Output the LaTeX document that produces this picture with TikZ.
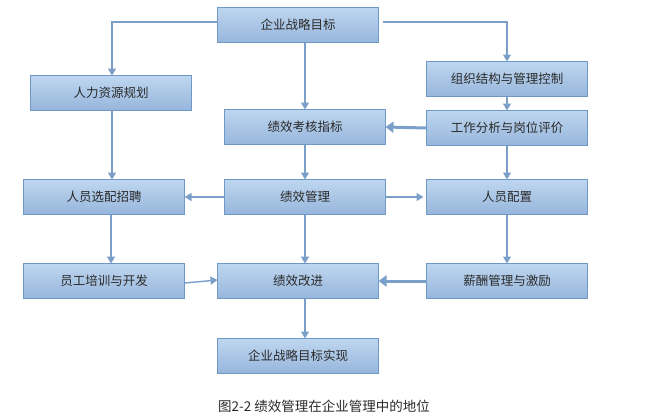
\documentclass[tikz,border=0pt]{standalone}
\usepackage{fontspec}
\usepackage{tikz}
\usetikzlibrary{arrows.meta, positioning, calc}
\newfontfamily\cjk{Noto Sans CJK SC}
\definecolor{boxtop}{HTML}{BED6EF}
\definecolor{boxbot}{HTML}{97B6DC}
\definecolor{boxline}{HTML}{7098C6}
\definecolor{arrline}{HTML}{7A9FC9}
\definecolor{txt}{HTML}{2A2A2A}

\tikzset{
  box/.style={draw=boxline, line width=1.8pt, top color=boxtop, bottom color=boxbot,
    minimum width=161pt, minimum height=35pt, inner sep=0pt, outer sep=0pt,
    text=txt, font=\cjk\fontsize{12.5}{14}\selectfont},
  link/.style={draw=arrline, line width=1.4pt, -{Triangle[length=7pt,width=8pt]}},
  biglink/.style={draw=arrline, line width=3pt, -{Triangle[length=8pt,width=11pt]}}
}

\begin{document}
\begin{tikzpicture}
\useasboundingbox (0,0) rectangle (645pt,-415pt);
\node[box] (PM) at (305pt,-197pt) {绩效管理};
\node[box, above=35pt of PM] (KPI) {绩效考核指标};
\node[box, above=67pt of KPI, xshift=-7pt] (G) {企业战略目标};
\node[box, right=41pt of PM] (STAFF) {人员配置};
\node[box, above=34pt of STAFF] (JOB) {工作分析与岗位评价};
\node[box, above=14pt of JOB] (ORG) {组织结构与管理控制};
\node[box, left=40pt of PM] (REC) {人员选配招聘};
\node[box, above=69pt of REC, xshift=7pt] (HR) {人力资源规划};
\node[box, below=49pt of REC] (TRN) {员工培训与开发};
\node[box, below=49pt of PM, xshift=-7pt] (IMP) {绩效改进};
\node[box, below=49pt of STAFF] (PAY) {薪酬管理与激励};
\node[box, below=40pt of IMP] (END) {企业战略目标实现};
\node[font=\cjk\fontsize{13.5}{15}\selectfont, text=txt, below=23pt of END, xshift=26pt] (CAP) {图2-2\ 绩效管理在企业管理中的地位};

% from the strategy down
\draw[link] ([yshift=3pt]G.west) -| ([xshift=1pt]HR.north);
\draw[link] ([yshift=3pt,xshift=4pt]G.east) -| (ORG.north);
\draw[link] (G.south -| KPI.north) -- (KPI.north);
\draw[link] (ORG.south) -- (JOB.north);
\draw[biglink] (JOB.west) -- (KPI.east);
\draw[link] ([xshift=1pt]HR.south) -- ([xshift=1pt]HR.south |- REC.north);
\draw[link] (KPI.south) -- (PM.north);
\draw[link] (JOB.south) -- (STAFF.north);
% around the performance management
\draw[link] (PM.west) -- (REC.east);
\draw[link] (PM.east) -- ([xshift=-3pt]STAFF.west);
\draw[link] ([xshift=7pt]REC.south) -- ([xshift=7pt]REC.south |- TRN.north);
\draw[link] (PM.south) -- (PM.south |- IMP.north);
\draw[link] (STAFF.south) -- (PAY.north);
\draw[link] ([yshift=-2pt]TRN.east) -- ([yshift=1pt]IMP.west);
\draw[biglink] (PAY.west) -- (IMP.east);
\draw[link] (IMP.south -| PM.south) -- (END.north -| PM.south);
\end{tikzpicture}
\end{document}
